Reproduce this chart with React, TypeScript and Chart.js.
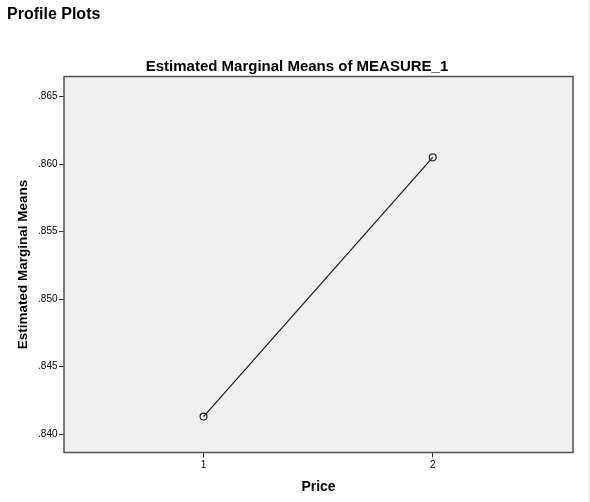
import React, { useEffect, useRef } from 'react';
import { Chart, registerables } from 'chart.js';

Chart.register(...registerables);

// Profile plot data
const priceLevels = [1, 2];
const marginalMeans = [0.8413, 0.8605];
const yTickValues = [0.84, 0.845, 0.85, 0.855, 0.86, 0.865];
const xTickValues = [1, 2];

const FONT = '"Liberation Sans", Arial, sans-serif';

// plot frame + grey background like SPSS
const framePlugin = {
  id: 'spssFrame',
  beforeDraw(chart: Chart) {
    const { ctx, chartArea: a, width, height } = chart;
    ctx.save();
    ctx.fillStyle = '#ffffff';
    ctx.fillRect(0, 0, width, height);
    ctx.fillStyle = '#f0f0f0';
    ctx.fillRect(a.left, a.top, a.right - a.left, a.bottom - a.top);
    ctx.strokeStyle = '#e2e2e2';
    ctx.lineWidth = 1;
    ctx.beginPath();
    ctx.moveTo(width - 0.5, 0);
    ctx.lineTo(width - 0.5, height);
    ctx.stroke();
    ctx.restore();
  },
  afterDraw(chart: Chart) {
    const { ctx, chartArea: a } = chart;
    ctx.save();
    ctx.strokeStyle = '#505050';
    ctx.lineWidth = 1.5;
    ctx.strokeRect(a.left, a.top, a.right - a.left, a.bottom - a.top);
    ctx.restore();
  }
};

const App: React.FC = () => {
  const canvasRef = useRef<HTMLCanvasElement | null>(null);

  useEffect(() => {
    const canvas = canvasRef.current;
    if (!canvas) return;

    const chart = new Chart(canvas, {
      type: 'line',
      data: {
        datasets: [{
          data: priceLevels.map((p, i) => ({ x: p, y: marginalMeans[i] })),
          borderColor: '#1a1a1a',
          borderWidth: 1.2,
          pointRadius: 3.5,
          pointBorderColor: '#2a2a2a',
          pointBackgroundColor: 'rgba(0,0,0,0)',
          pointBorderWidth: 1.2,
          tension: 0
        }]
      },
      options: {
        responsive: false,
        animation: false,
        devicePixelRatio: 1,
        layout: { padding: { left: 7, right: 3, top: 0, bottom: 0 } },
        plugins: {
          legend: { display: false },
          tooltip: { enabled: false },
          title: {
            display: true,
            text: 'Profile Plots',
            align: 'start',
            color: '#000',
            font: { family: FONT, size: 16, weight: 'bold' },
            padding: { top: 4.9, bottom: 34.1 }
          },
          subtitle: {
            display: true,
            text: 'Estimated Marginal Means of MEASURE_1',
            color: '#000',
            font: { family: FONT, size: 15, weight: 'bold' },
            padding: { top: 0, bottom: 0.3 }
          }
        },
        scales: {
          x: {
            type: 'linear',
            min: 0.391,
            max: 2.612,
            afterFit: (s: any) => { s.height = 49.5; },
            afterBuildTicks: (s: any) => { s.ticks = xTickValues.map(v => ({ value: v })); },
            border: { display: false },
            grid: { drawOnChartArea: false, drawTicks: true, tickLength: 5, color: '#333', tickWidth: 1 },
            ticks: {
              padding: 2,
              color: '#000',
              font: { family: FONT, size: 10 },
              callback: (v: any) => String(v)
            },
            title: {
              display: true,
              text: 'Price',
              color: '#000',
              font: { family: FONT, size: 14, weight: 'bold' },
              padding: { top: 0, bottom: 6.8 }
            }
          },
          y: {
            type: 'linear',
            min: 0.83864,
            max: 0.86649,
            afterFit: (s: any) => { s.width = 57; },
            afterBuildTicks: (s: any) => { s.ticks = yTickValues.map(v => ({ value: v })); },
            border: { display: false },
            grid: { drawOnChartArea: false, drawTicks: true, tickLength: 5, color: '#333', tickWidth: 1 },
            ticks: {
              padding: 1.5,
              color: '#000',
              font: { family: FONT, size: 10 },
              callback: (v: any) => Number(v).toFixed(3).replace(/^0/, '')
            },
            title: {
              display: true,
              text: 'Estimated Marginal Means',
              color: '#000',
              font: { family: FONT, size: 13.5, weight: 'bold' },
              padding: { top: 7.9, bottom: 0 }
            }
          },
          // empty right box so the plot frame ends where the original does
          yRight: {
            type: 'linear',
            position: 'right',
            display: true,
            afterFit: (s: any) => { s.width = 14; },
            border: { display: false },
            grid: { display: false },
            ticks: { display: false }
          }
        }
      },
      plugins: [framePlugin]
    });

    return () => chart.destroy();
  }, []);

  return (
    <div style={{ position: 'absolute', left: 0, top: 0, width: 590, height: 502 }}>
      <canvas ref={canvasRef} width={590} height={502} />
    </div>
  );
};

export default App;
